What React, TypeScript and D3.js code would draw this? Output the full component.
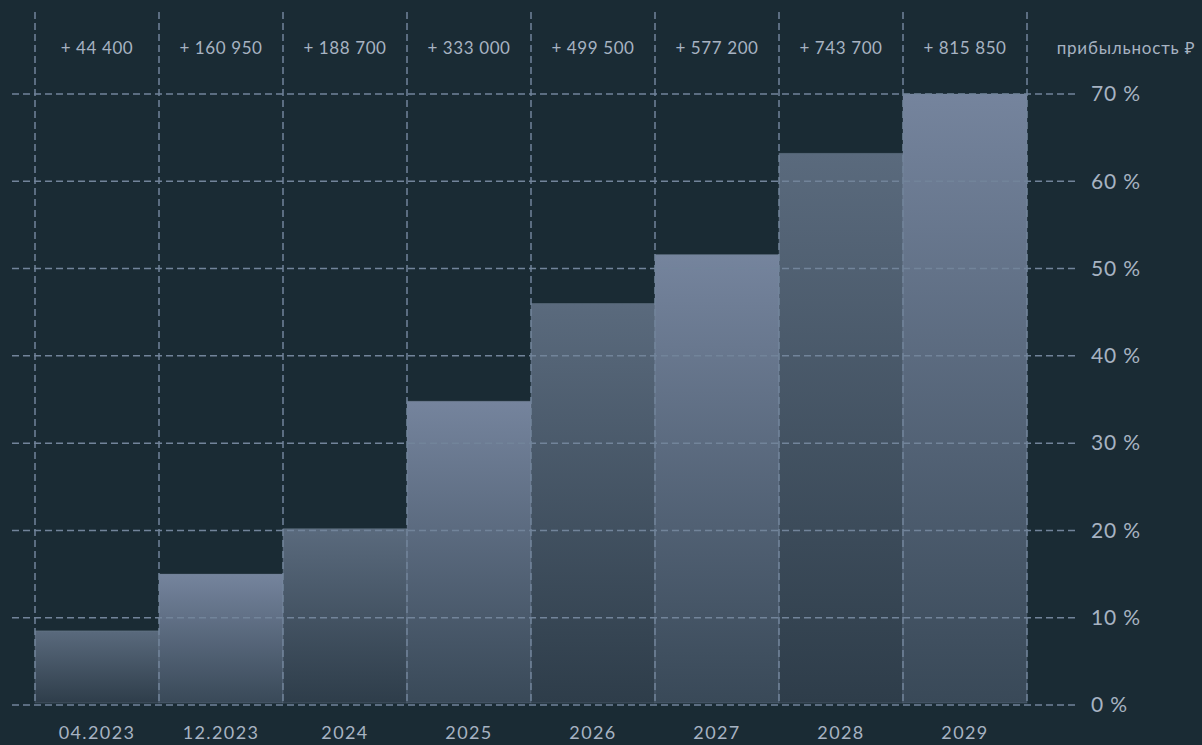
import { useEffect, useRef } from "react";
import * as d3 from "d3";

const periods = ["04.2023", "12.2023", "2024", "2025", "2026", "2027", "2028", "2029"];
const profitability = [8.5, 15, 20.2, 34.8, 46, 51.6, 63.2, 70];
const gains = ["+ 44 400", "+ 160 950", "+ 188 700", "+ 333 000", "+ 499 500", "+ 577 200", "+ 743 700", "+ 815 850"];
const yTicks = [0, 10, 20, 30, 40, 50, 60, 70];

const W = 1202;
const H = 745;

export default function App() {
  const svgRef = useRef<SVGSVGElement>(null);

  useEffect(() => {
    document.body.style.margin = "0";
    if (!svgRef.current) return;
    const svg = d3.select(svgRef.current);
    svg.selectAll("*").remove();

    const x = d3.scaleBand<string>().domain(periods).range([35, 1027]).padding(0);
    const y = d3.scaleLinear().domain([0, 70]).range([705, 94]);

    const defs = svg.append("defs");
    const grads = [
      { id: "barDark", top: "#5a6a7d", bottom: "#2e3d4a" },
      { id: "barLight", top: "#75849d", bottom: "#394958" },
    ];
    grads.forEach((g) => {
      const lg = defs
        .append("linearGradient")
        .attr("id", g.id)
        .attr("x1", 0)
        .attr("y1", 0)
        .attr("x2", 0)
        .attr("y2", 1);
      lg.append("stop").attr("offset", "0%").attr("stop-color", g.top);
      lg.append("stop").attr("offset", "100%").attr("stop-color", g.bottom);
    });

    svg.append("rect").attr("width", W).attr("height", H).attr("fill", "#1a2b34");

    // bars
    svg
      .append("g")
      .selectAll("rect")
      .data(periods)
      .enter()
      .append("rect")
      .attr("x", (d) => x(d)!)
      .attr("y", (_, i) => y(profitability[i]))
      .attr("width", x.bandwidth())
      .attr("height", (_, i) => y(0) - 2 - y(profitability[i]))
      .attr("fill", (_, i) => (i % 2 === 0 ? "url(#barDark)" : "url(#barLight)"))
      .attr("stroke", "rgba(140,155,175,0.25)")
      .attr("stroke-width", 1);

    const gridColor = "#72849a";
    const grid = svg.append("g").attr("stroke", gridColor).attr("stroke-width", 1.5).attr("stroke-dasharray", "7,4");

    // horizontal grid
    grid
      .selectAll("line.h")
      .data(yTicks)
      .enter()
      .append("line")
      .attr("x1", 12)
      .attr("x2", 1075)
      .attr("y1", (d) => y(d))
      .attr("y2", (d) => y(d));

    // vertical grid at band edges
    const edges = periods.map((p) => x(p)!).concat([x(periods[periods.length - 1])! + x.bandwidth()]);
    grid
      .selectAll("line.v")
      .data(edges)
      .enter()
      .append("line")
      .attr("x1", (d) => d)
      .attr("x2", (d) => d)
      .attr("y1", 12)
      .attr("y2", 703);

    const font = "Lato, 'Noto Sans', sans-serif";
    const textColor = "#a7b3c2";

    // top gain labels
    svg
      .append("g")
      .selectAll("text")
      .data(gains)
      .enter()
      .append("text")
      .attr("x", (_, i) => x(periods[i])! + x.bandwidth() / 2)
      .attr("y", 54)
      .attr("text-anchor", "middle")
      .attr("font-family", font)
      .attr("font-size", 17)
      .attr("letter-spacing", 0.6)
      .attr("fill", textColor)
      .text((d) => d);

    svg
      .append("text")
      .attr("x", 1126)
      .attr("y", 54)
      .attr("text-anchor", "middle")
      .attr("font-family", font)
      .attr("font-size", 17)
      .attr("letter-spacing", 0.8)
      .attr("fill", textColor)
      .text("прибыльность ₽");

    // right axis labels
    svg
      .append("g")
      .selectAll("text")
      .data(yTicks)
      .enter()
      .append("text")
      .attr("x", 1091)
      .attr("y", (d) => y(d))
      .attr("dy", "0.35em")
      .attr("font-family", font)
      .attr("font-size", 21)
      .attr("letter-spacing", 0.8)
      .attr("fill", textColor)
      .text((d) => `${d} %`);

    // bottom period labels
    svg
      .append("g")
      .selectAll("text")
      .data(periods)
      .enter()
      .append("text")
      .attr("x", (d) => x(d)! + x.bandwidth() / 2)
      .attr("y", 739)
      .attr("text-anchor", "middle")
      .attr("font-family", font)
      .attr("font-size", 18)
      .attr("letter-spacing", 1.4)
      .attr("fill", textColor)
      .text((d) => d);
  }, []);

  return (
    <svg
      ref={svgRef}
      width={W}
      height={H}
      style={{ position: "absolute", top: 0, left: 0, display: "block" }}
    />
  );
}
